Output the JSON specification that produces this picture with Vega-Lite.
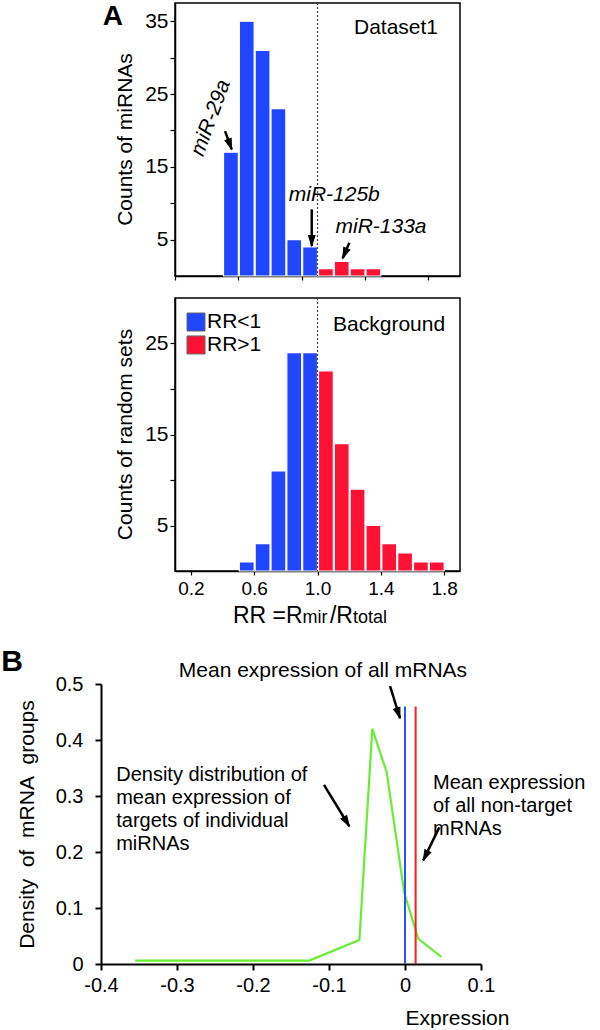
{
  "$schema": "https://vega.github.io/schema/vega-lite/v6.json",
  "padding": {"left": 1, "top": 1, "right": 2, "bottom": 0},
  "config": {
    "font": "Liberation Sans",
    "view": {"stroke": null},
    "axis": {
      "grid": false,
      "domainColor": "black",
      "tickColor": "black",
      "labelColor": "black",
      "titleColor": "black",
      "labelFont": "Liberation Sans",
      "titleFont": "Liberation Sans",
      "titleFontWeight": "normal",
      "labelFlush": false,
      "labelOverlap": false
    },
    "text": {"font": "Liberation Sans", "color": "black"}
  },
  "datasets": {
    "dataset1": [
      {"bin_start": 0.4, "bin_end": 0.5, "count": 17, "ratio": "RR<1"},
      {"bin_start": 0.5, "bin_end": 0.6, "count": 35, "ratio": "RR<1"},
      {"bin_start": 0.6, "bin_end": 0.7, "count": 31, "ratio": "RR<1"},
      {"bin_start": 0.7, "bin_end": 0.8, "count": 23, "ratio": "RR<1"},
      {"bin_start": 0.8, "bin_end": 0.9, "count": 5, "ratio": "RR<1"},
      {"bin_start": 0.9, "bin_end": 1.0, "count": 4, "ratio": "RR<1"},
      {"bin_start": 1.0, "bin_end": 1.1, "count": 1, "ratio": "RR>1"},
      {"bin_start": 1.1, "bin_end": 1.2, "count": 2, "ratio": "RR>1"},
      {"bin_start": 1.2, "bin_end": 1.3, "count": 1, "ratio": "RR>1"},
      {"bin_start": 1.3, "bin_end": 1.4, "count": 1, "ratio": "RR>1"}
    ],
    "background": [
      {"bin_start": 0.5, "bin_end": 0.6, "count": 1, "ratio": "RR<1"},
      {"bin_start": 0.6, "bin_end": 0.7, "count": 3, "ratio": "RR<1"},
      {"bin_start": 0.7, "bin_end": 0.8, "count": 11, "ratio": "RR<1"},
      {"bin_start": 0.8, "bin_end": 0.9, "count": 24, "ratio": "RR<1"},
      {"bin_start": 0.9, "bin_end": 1.0, "count": 24, "ratio": "RR<1"},
      {"bin_start": 1.0, "bin_end": 1.1, "count": 22, "ratio": "RR>1"},
      {"bin_start": 1.1, "bin_end": 1.2, "count": 14, "ratio": "RR>1"},
      {"bin_start": 1.2, "bin_end": 1.3, "count": 9, "ratio": "RR>1"},
      {"bin_start": 1.3, "bin_end": 1.4, "count": 5, "ratio": "RR>1"},
      {"bin_start": 1.4, "bin_end": 1.5, "count": 3, "ratio": "RR>1"},
      {"bin_start": 1.5, "bin_end": 1.6, "count": 2, "ratio": "RR>1"},
      {"bin_start": 1.6, "bin_end": 1.7, "count": 1, "ratio": "RR>1"},
      {"bin_start": 1.7, "bin_end": 1.8, "count": 1, "ratio": "RR>1"}
    ],
    "threshold": [{"rr": 1.0}],
    "legendA": [
      {"ratio": "RR<1", "rr": 0.2327, "rr_label": 0.302, "count": 27.36},
      {"ratio": "RR>1", "rr": 0.2327, "rr_label": 0.302, "count": 24.84}
    ],
    "labelsA": [
      {"text": "miR-125b", "rr": 1.106, "count": 11.13},
      {"text": "miR-133a", "rr": 1.401, "count": 6.77}
    ],
    "label29a": [{"text": "miR-29a", "rr": 0.327, "count": 21.7}],
    "arrowsA": [
      {"arrow": "miR-29a", "rr": 0.416, "count": 19.9, "rr_tip": 0.458, "count_tip": 17.4},
      {"arrow": "miR-125b", "rr": 0.9635, "count": 9.16, "rr_tip": 0.9635, "count_tip": 4.12},
      {"arrow": "miR-133a", "rr": 1.201, "count": 4.57, "rr_tip": 1.159, "count_tip": 2.43}
    ],
    "panelA": [{"text": "A", "rr": -0.292, "count": 35.6}],
    "nameA1": [{"text": "Dataset1", "rr": 1.496, "count": 34.07}],
    "nameA2": [{"text": "Background", "rr": 1.452, "count": 26.98}],
    "axisTitleA": [
      {"text": "RR =R", "part": "main", "rr": 0.4664, "count": -5.66},
      {"text": "mir", "part": "sub", "rr": 0.9048, "count": -5.66},
      {"text": "/R", "part": "main", "rr": 1.0786, "count": -5.66},
      {"text": "total", "part": "sub", "rr": 1.2235, "count": -5.66}
    ],
    "density": [
      {"expression": -0.355, "density": 0.006},
      {"expression": -0.126, "density": 0.006},
      {"expression": -0.06, "density": 0.043},
      {"expression": -0.043, "density": 0.42},
      {"expression": -0.024, "density": 0.342},
      {"expression": -0.001, "density": 0.127},
      {"expression": 0.0175, "density": 0.045},
      {"expression": 0.048, "density": 0.0125}
    ],
    "means": [
      {"group": "all mRNAs", "expression": 0, "bottom": 0, "top": 0.46},
      {"group": "non-target mRNAs", "expression": 0.014, "bottom": 0, "top": 0.46}
    ],
    "arrowsB": [
      {"arrow": "all", "expression": -0.0197, "density": 0.496, "expression_tip": -0.0066, "density_tip": 0.439},
      {"arrow": "targets", "expression": -0.1066, "density": 0.32, "expression_tip": -0.0733, "density_tip": 0.246},
      {"arrow": "non-target", "expression": 0.0451, "density": 0.244, "expression_tip": 0.024, "density_tip": 0.185}
    ],
    "notesCenter": [{"text": "Mean expression of all mRNAs", "expression": -0.108, "density": 0.523}],
    "notesLeft": [
      {"text": "Density distribution of\nmean expression of\ntargets of individual\nmiRNAs", "expression": -0.38, "density": 0.337},
      {"text": "Mean expression\nof all non-target\nmRNAs", "expression": 0.0368, "density": 0.324}
    ],
    "panelB": [{"text": "B", "expression": -0.517, "density": 0.539}]
  },
  "vconcat": [
    {
      "hconcat": [
        {
          "width": 1,
          "height": 10,
          "data": {"name": "threshold"},
          "mark": {"type": "text"},
          "encoding": {"text": {"value": ""}}
        },
        {
          "vconcat": [
            {
              "width": 285,
              "height": 273,
              "view": {"stroke": "black", "strokeWidth": 1.5},
              "layer": [
                {
                  "data": {"name": "dataset1"},
                  "mark": {"type": "bar", "stroke": "white", "strokeWidth": 1.2},
                  "encoding": {
                    "x": {
                      "field": "bin_start", "type": "quantitative", "bin": "binned",
                      "scale": {"domain": [0.1, 1.9], "nice": false},
                      "axis": {
                        "title": null,
                        "values": [0.1, 0.2, 0.3, 0.4, 0.5, 0.6, 0.7, 0.8, 0.9, 1.0, 1.1, 1.2, 1.3, 1.4, 1.5, 1.6, 1.7, 1.8, 1.9],
                        "labels": false,
                        "tickWidth": 1.2,
                        "domainWidth": 1.5,
                        "tickSize": 4
                      }
                    },
                    "x2": {"field": "bin_end"},
                    "y": {
                      "field": "count", "type": "quantitative",
                      "scale": {"domain": [0, 37.5], "nice": false},
                      "axis": {
                        "title": "Counts of miRNAs",
                        "titleFontSize": 21,
                        "titleX": -50,
                        "titleY": 136,
                        "titleAngle": 270,
                        "titleAlign": "center",
                        "titleBaseline": "middle",
                        "values": [5, 7.5, 10, 12.5, 15, 17.5, 20, 22.5, 25, 27.5, 30, 32.5, 35],
                        "format": "d",
                        "labelOverlap": "parity",
                        "labelSeparation": 30,
                        "labelFontSize": 21,
                        "labelPadding": 2,
                        "tickWidth": 1.2,
                        "domainWidth": 1.5,
                        "tickSize": 5
                      }
                    },
                    "color": {
                      "field": "ratio", "type": "nominal",
                      "scale": {"domain": ["RR<1", "RR>1"], "range": ["#2146ff", "#ff1133"]},
                      "legend": null
                    }
                  }
                },
                {
                  "data": {"name": "threshold"},
                  "mark": {"type": "rule", "color": "#444", "strokeDash": [2, 2], "strokeWidth": 1.2},
                  "encoding": {"x": {"field": "rr", "type": "quantitative"}}
                },
                {
                  "data": {"name": "arrowsA"},
                  "mark": {"type": "rule", "color": "black", "strokeWidth": 2.5},
                  "encoding": {
                    "x": {"field": "rr", "type": "quantitative"},
                    "y": {"field": "count", "type": "quantitative"},
                    "x2": {"field": "rr_tip"},
                    "y2": {"field": "count_tip"}
                  }
                },
                {
                  "data": {"name": "arrowsA"},
                  "transform": [{"filter": "datum.arrow == 'miR-29a'"}],
                  "mark": {"type": "point", "shape": "M0,-0.3L0.8,2.2L-0.8,2.2Z", "filled": true, "color": "black", "opacity": 1, "size": 100, "angle": 160},
                  "encoding": {
                    "x": {"field": "rr_tip", "type": "quantitative"},
                    "y": {"field": "count_tip", "type": "quantitative"}
                  }
                },
                {
                  "data": {"name": "arrowsA"},
                  "transform": [{"filter": "datum.arrow == 'miR-125b'"}],
                  "mark": {"type": "point", "shape": "M0,-0.3L0.8,2.2L-0.8,2.2Z", "filled": true, "color": "black", "opacity": 1, "size": 100, "angle": 180},
                  "encoding": {
                    "x": {"field": "rr_tip", "type": "quantitative"},
                    "y": {"field": "count_tip", "type": "quantitative"}
                  }
                },
                {
                  "data": {"name": "arrowsA"},
                  "transform": [{"filter": "datum.arrow == 'miR-133a'"}],
                  "mark": {"type": "point", "shape": "M0,-0.3L0.8,2.2L-0.8,2.2Z", "filled": true, "color": "black", "opacity": 1, "size": 100, "angle": 203},
                  "encoding": {
                    "x": {"field": "rr_tip", "type": "quantitative"},
                    "y": {"field": "count_tip", "type": "quantitative"}
                  }
                },
                {
                  "data": {"name": "labelsA"},
                  "mark": {"type": "text", "fontSize": 21, "fontStyle": "italic", "align": "center", "baseline": "middle"},
                  "encoding": {
                    "x": {"field": "rr", "type": "quantitative"},
                    "y": {"field": "count", "type": "quantitative"},
                    "text": {"field": "text"}
                  }
                },
                {
                  "data": {"name": "label29a"},
                  "mark": {"type": "text", "fontSize": 21, "fontStyle": "italic", "align": "center", "baseline": "middle", "angle": 290},
                  "encoding": {
                    "x": {"field": "rr", "type": "quantitative"},
                    "y": {"field": "count", "type": "quantitative"},
                    "text": {"field": "text"}
                  }
                },
                {
                  "data": {"name": "nameA1"},
                  "mark": {"type": "text", "fontSize": 21, "align": "center", "baseline": "middle"},
                  "encoding": {
                    "x": {"field": "rr", "type": "quantitative"},
                    "y": {"field": "count", "type": "quantitative"},
                    "text": {"field": "text"}
                  }
                },
                {
                  "data": {"name": "panelA"},
                  "mark": {"type": "text", "fontSize": 28, "fontWeight": "bold", "align": "center", "baseline": "middle"},
                  "encoding": {
                    "x": {"field": "rr", "type": "quantitative"},
                    "y": {"field": "count", "type": "quantitative"},
                    "text": {"field": "text"}
                  }
                }
              ]
            },
            {
              "width": 285,
              "height": 273,
              "view": {"stroke": "black", "strokeWidth": 1.5},
              "layer": [
                {
                  "data": {"name": "background"},
                  "mark": {"type": "bar", "stroke": "white", "strokeWidth": 1.2},
                  "encoding": {
                    "x": {
                      "field": "bin_start", "type": "quantitative", "bin": "binned",
                      "scale": {"domain": [0.1, 1.9], "nice": false},
                      "axis": {
                        "title": null,
                        "values": [0.2, 0.3, 0.4, 0.5, 0.6, 0.7, 0.8, 0.9, 1.0, 1.1, 1.2, 1.3, 1.4, 1.5, 1.6, 1.7, 1.8],
                        "format": ".1f",
                        "labelOverlap": "parity",
                        "labelSeparation": 10,
                        "labelFontSize": 19,
                        "labelPadding": 4,
                        "tickWidth": 1.2,
                        "domainWidth": 1.5,
                        "tickSize": 4
                      }
                    },
                    "x2": {"field": "bin_end"},
                    "y": {
                      "field": "count", "type": "quantitative",
                      "scale": {"domain": [0, 30], "nice": false},
                      "axis": {
                        "title": "Counts of random sets",
                        "titleFontSize": 21,
                        "titleX": -50,
                        "titleY": 136,
                        "titleAngle": 270,
                        "titleAlign": "center",
                        "titleBaseline": "middle",
                        "values": [5, 7.5, 10, 12.5, 15, 17.5, 20, 22.5, 25, 27.5],
                        "format": "d",
                        "labelOverlap": "parity",
                        "labelSeparation": 30,
                        "labelFontSize": 21,
                        "labelPadding": 2,
                        "tickWidth": 1.2,
                        "domainWidth": 1.5,
                        "tickSize": 5
                      }
                    },
                    "color": {
                      "field": "ratio", "type": "nominal",
                      "scale": {"domain": ["RR<1", "RR>1"], "range": ["#2146ff", "#ff1133"]},
                      "legend": null
                    }
                  }
                },
                {
                  "data": {"name": "threshold"},
                  "mark": {"type": "rule", "color": "#444", "strokeDash": [2, 2], "strokeWidth": 1.2},
                  "encoding": {"x": {"field": "rr", "type": "quantitative"}}
                },
                {
                  "data": {"name": "legendA"},
                  "mark": {"type": "point", "shape": "square", "size": 324, "filled": true, "opacity": 1, "stroke": "#666", "strokeWidth": 1},
                  "encoding": {
                    "x": {"field": "rr", "type": "quantitative"},
                    "y": {"field": "count", "type": "quantitative"},
                    "color": {"field": "ratio", "type": "nominal", "legend": null}
                  }
                },
                {
                  "data": {"name": "legendA"},
                  "mark": {"type": "text", "fontSize": 21, "align": "left", "baseline": "middle"},
                  "encoding": {
                    "x": {"field": "rr_label", "type": "quantitative"},
                    "y": {"field": "count", "type": "quantitative"},
                    "text": {"field": "ratio"}
                  }
                },
                {
                  "data": {"name": "nameA2"},
                  "mark": {"type": "text", "fontSize": 21, "align": "center", "baseline": "middle"},
                  "encoding": {
                    "x": {"field": "rr", "type": "quantitative"},
                    "y": {"field": "count", "type": "quantitative"},
                    "text": {"field": "text"}
                  }
                },
                {
                  "data": {"name": "axisTitleA"},
                  "transform": [{"filter": "datum.part == 'main'"}],
                  "mark": {"type": "text", "align": "left", "baseline": "alphabetic", "fontSize": 23},
                  "encoding": {
                    "x": {"field": "rr", "type": "quantitative"},
                    "y": {"field": "count", "type": "quantitative"},
                    "text": {"field": "text"}
                  }
                },
                {
                  "data": {"name": "axisTitleA"},
                  "transform": [{"filter": "datum.part == 'sub'"}],
                  "mark": {"type": "text", "align": "left", "baseline": "alphabetic", "fontSize": 18},
                  "encoding": {
                    "x": {"field": "rr", "type": "quantitative"},
                    "y": {"field": "count", "type": "quantitative"},
                    "text": {"field": "text"}
                  }
                }
              ]
            }
          ],
          "spacing": 14
        }
      ],
      "spacing": 0
    },
    {
      "width": 380,
      "height": 280,
      "layer": [
        {
          "data": {"name": "density"},
          "mark": {"type": "line", "color": "#66ee33", "strokeWidth": 2.2},
          "encoding": {
            "x": {
              "field": "expression", "type": "quantitative",
              "scale": {"domain": [-0.4, 0.1], "nice": false, "zero": false},
              "axis": {
                "title": "Expression",
                "titleFontSize": 21,
                "titleX": 356,
                "titleY": 54,
                "titleAlign": "center",
                "titleBaseline": "middle",
                "values": [-0.4, -0.35, -0.3, -0.25, -0.2, -0.15, -0.1, -0.05, 0, 0.05, 0.1],
                "labelExpr": "abs(round(datum.value*20)) % 2 == 0 ? '' + round(datum.value*10)/10 : ''",
                "labelFontSize": 20,
                "labelPadding": 5,
                "tickWidth": 2,
                "domainWidth": 2,
                "tickSize": 6
              }
            },
            "y": {
              "field": "density", "type": "quantitative",
              "scale": {"domain": [0, 0.5], "nice": false},
              "axis": {
                "title": "Density\u00a0 of\u00a0 mRNA\u00a0 groups",
                "titleFontSize": 21,
                "titleX": -74,
                "titleY": 140,
                "titleAngle": 270,
                "titleAlign": "center",
                "titleBaseline": "middle",
                "values": [0, 0.05, 0.1, 0.15, 0.2, 0.25, 0.3, 0.35, 0.4, 0.45, 0.5],
                "labelExpr": "round(datum.value*20) % 2 == 0 ? '' + round(datum.value*10)/10 : ''",
                "labelFontSize": 20,
                "labelPadding": 12,
                "tickWidth": 2,
                "domainWidth": 2,
                "tickSize": 6
              }
            }
          }
        },
        {
          "data": {"name": "means"},
          "mark": {"type": "rule", "strokeWidth": 2},
          "encoding": {
            "x": {"field": "expression", "type": "quantitative"},
            "y": {"field": "bottom", "type": "quantitative"},
            "y2": {"field": "top"},
            "stroke": {
              "field": "group", "type": "nominal",
              "scale": {"domain": ["all mRNAs", "non-target mRNAs"], "range": ["#2255ff", "#ff1a1a"]},
              "legend": null
            }
          }
        },
        {
          "data": {"name": "arrowsB"},
          "mark": {"type": "rule", "color": "black", "strokeWidth": 2.5},
          "encoding": {
            "x": {"field": "expression", "type": "quantitative"},
            "y": {"field": "density", "type": "quantitative"},
            "x2": {"field": "expression_tip"},
            "y2": {"field": "density_tip"}
          }
        },
        {
          "data": {"name": "arrowsB"},
          "transform": [{"filter": "datum.arrow == 'all'"}],
          "mark": {"type": "point", "shape": "M0,-0.3L0.8,2.2L-0.8,2.2Z", "filled": true, "color": "black", "opacity": 1, "size": 100, "angle": 162},
          "encoding": {
            "x": {"field": "expression_tip", "type": "quantitative"},
            "y": {"field": "density_tip", "type": "quantitative"}
          }
        },
        {
          "data": {"name": "arrowsB"},
          "transform": [{"filter": "datum.arrow == 'targets'"}],
          "mark": {"type": "point", "shape": "M0,-0.3L0.8,2.2L-0.8,2.2Z", "filled": true, "color": "black", "opacity": 1, "size": 100, "angle": 149},
          "encoding": {
            "x": {"field": "expression_tip", "type": "quantitative"},
            "y": {"field": "density_tip", "type": "quantitative"}
          }
        },
        {
          "data": {"name": "arrowsB"},
          "transform": [{"filter": "datum.arrow == 'non-target'"}],
          "mark": {"type": "point", "shape": "M0,-0.3L0.8,2.2L-0.8,2.2Z", "filled": true, "color": "black", "opacity": 1, "size": 100, "angle": 206},
          "encoding": {
            "x": {"field": "expression_tip", "type": "quantitative"},
            "y": {"field": "density_tip", "type": "quantitative"}
          }
        },
        {
          "data": {"name": "notesCenter"},
          "mark": {"type": "text", "fontSize": 21, "align": "center", "baseline": "middle"},
          "encoding": {
            "x": {"field": "expression", "type": "quantitative"},
            "y": {"field": "density", "type": "quantitative"},
            "text": {"field": "text"}
          }
        },
        {
          "data": {"name": "notesLeft"},
          "mark": {"type": "text", "fontSize": 20, "align": "left", "baseline": "middle", "lineBreak": "\n", "lineHeight": 23},
          "encoding": {
            "x": {"field": "expression", "type": "quantitative"},
            "y": {"field": "density", "type": "quantitative"},
            "text": {"field": "text"}
          }
        },
        {
          "data": {"name": "panelB"},
          "mark": {"type": "text", "fontSize": 30, "fontWeight": "bold", "align": "center", "baseline": "middle"},
          "encoding": {
            "x": {"field": "expression", "type": "quantitative"},
            "y": {"field": "density", "type": "quantitative"},
            "text": {"field": "text"}
          }
        }
      ]
    }
  ],
  "spacing": 18,
  "align": "none"
}
